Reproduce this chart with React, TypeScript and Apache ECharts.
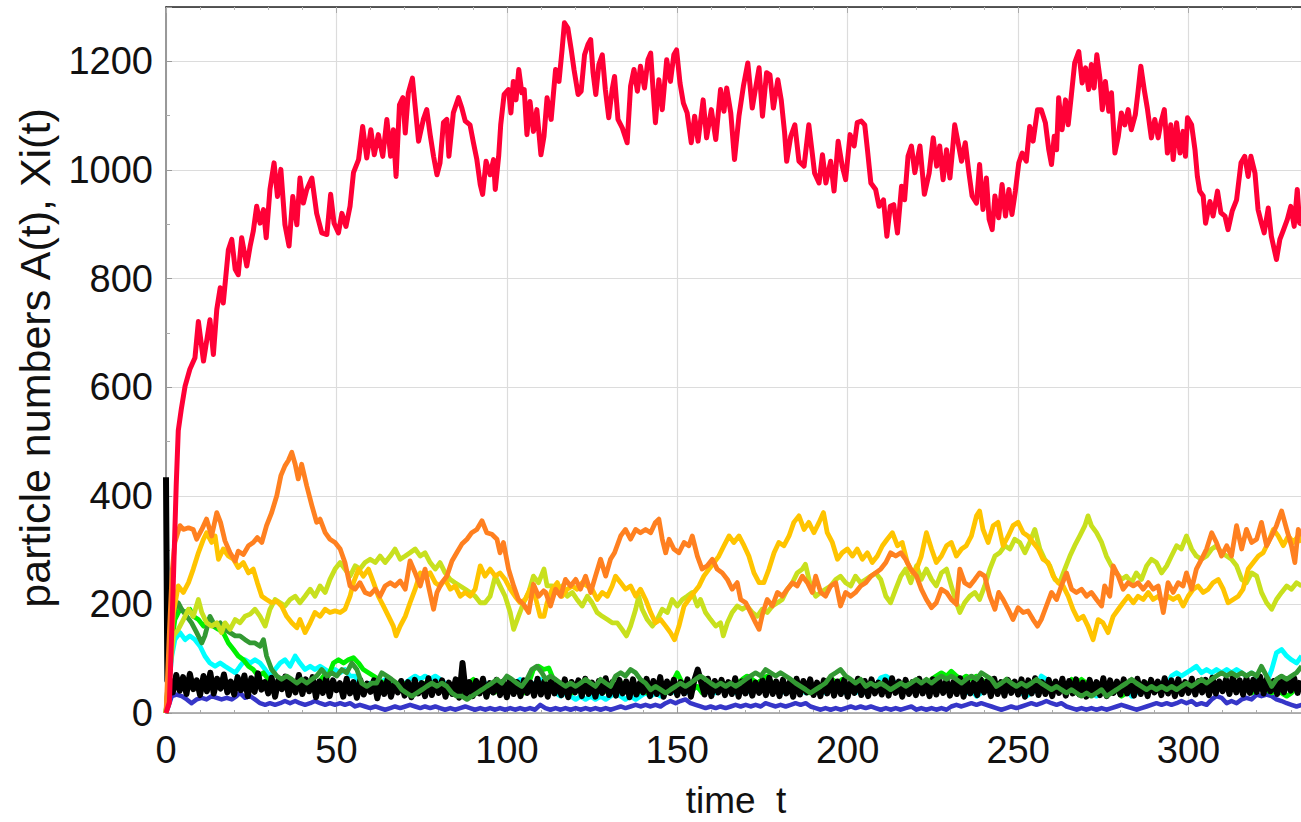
import React, { useEffect, useRef } from "react";
import * as echarts from "echarts";

// time axis ticks
const xTicks = [0, 50, 100, 150, 200, 250, 300];
const yTicks = [0, 200, 400, 600, 800, 1000, 1200];

// A(t) — red
const redA = [[0,0],[1,20],[2,210],[3,420],[3.6,520],[4.5,560],[5.6,602],[7,633],[8.5,654],[9.5,721],[11,648],[12.9,724],[13.9,660],[14.9,743],[15.9,783],[16.8,755],[18.3,853],[19.3,872],[20.3,817],[21.2,807],[22.2,875],[23.7,823],[24.7,860],[25.6,887],[26.6,933],[27.6,902],[28.6,927],[29.4,875],[30.5,964],[31.7,1013],[32.7,951],[33.7,1001],[34.9,899],[36.1,860],[37.2,951],[38.4,899],[39.3,985],[40.3,939],[41.3,964],[42.8,985],[44.2,920],[45.7,884],[47.2,881],[48.3,955],[49.3,902],[50.6,884],[51.6,920],[52.8,896],[54,933],[55,995],[56.5,1019],[57.7,1080],[58.9,1022],[60.1,1074],[61.1,1028],[62.3,1065],[63.6,1025],[64.8,1093],[65.9,1025],[66.7,1074],[67.5,988],[68.5,1120],[69.5,1133],[70.2,1068],[71.1,1142],[72.3,1169],[73.1,1117],[74.1,1053],[75.5,1093],[76.5,1111],[77.5,1065],[78.5,1025],[79.5,991],[80.4,1013],[81.4,1087],[82.4,1093],[83,1025],[84.3,1105],[85.8,1133],[86.8,1114],[87.8,1090],[89.2,1083],[90.2,1050],[91.2,1019],[92.2,973],[92.9,955],[93.9,1016],[95.1,991],[96.1,1019],[96.6,964],[97.6,1025],[98.2,1083],[99.2,1139],[100.5,1148],[101.2,1105],[101.9,1163],[102.7,1129],[103.5,1185],[104.4,1142],[105.1,1148],[105.9,1065],[106.8,1126],[107.8,1071],[108.8,1111],[110,1028],[110.9,1062],[111.8,1133],[113,1093],[114.3,1185],[115.3,1163],[116.2,1221],[116.9,1271],[117.9,1261],[118.9,1221],[119.7,1185],[120.9,1139],[121.8,1145],[122.8,1212],[123.8,1231],[124.6,1240],[125.3,1179],[126.1,1139],[127,1194],[128,1212],[128.9,1148],[129.9,1096],[130.9,1148],[131.6,1172],[132.6,1093],[133.9,1077],[135.3,1050],[136.3,1154],[137.3,1185],[138.3,1145],[139.2,1191],[140.4,1151],[141.4,1203],[142.2,1215],[142.9,1148],[143.6,1087],[144.6,1166],[145.6,1111],[146.9,1203],[148,1163],[149,1212],[149.8,1221],[150.8,1160],[151.8,1123],[152.9,1105],[154.1,1050],[155.1,1099],[156.1,1053],[157.6,1129],[158.6,1059],[160,1111],[161.3,1056],[162.7,1148],[163.7,1108],[164.5,1151],[165.7,1105],[166.8,1019],[168.1,1099],[169.4,1154],[170.7,1197],[172,1114],[173,1151],[174,1188],[175,1099],[176.2,1179],[177.2,1175],[178.2,1114],[179.5,1166],[180.5,1129],[181.5,1068],[182.1,1016],[183.3,1062],[184.5,1083],[185.7,1016],[187.2,1007],[188.6,1083],[189.6,1031],[190.3,994],[191.6,976],[192.6,1028],[193.6,976],[195,1016],[196,961],[197.2,1053],[198.4,1007],[199.4,982],[200.7,1065],[201.9,1044],[202.8,1087],[204,1090],[205,1083],[205.8,1037],[206.8,976],[208.2,964],[209.2,933],[210.5,945],[211.5,878],[212.5,933],[213.5,936],[214.6,884],[215.8,970],[216.7,945],[217.7,1025],[218.7,1044],[219.7,995],[221.2,1044],[222.5,955],[223.9,994],[225.1,1059],[226.1,1007],[227,1044],[228,982],[229,1037],[230,985],[230.6,1025],[231.4,1083],[232.4,1050],[233.4,1016],[234.5,1050],[235.5,998],[236.5,952],[237.8,939],[238.7,1010],[239.7,927],[240.7,985],[241.5,909],[242.4,890],[243.2,952],[244.3,912],[245.3,973],[246.3,915],[247.3,964],[248.2,918],[249.2,961],[250.2,1013],[251.2,1031],[252.4,1016],[253.4,1080],[254.4,1053],[255.7,1111],[256.8,1111],[258,1087],[259,1037],[259.8,1010],[260.6,1062],[261.3,1037],[261.9,1133],[262.9,1074],[263.9,1129],[264.7,1083],[265.6,1136],[266.6,1197],[267.8,1218],[268.8,1160],[269.8,1188],[270.7,1148],[271.5,1194],[272.3,1151],[273.1,1212],[274,1169],[274.7,1111],[275.6,1163],[276.6,1108],[277.4,1142],[278.4,1031],[279.4,1062],[280.3,1105],[281.3,1083],[282.3,1111],[283.2,1074],[284.4,1102],[285.2,1145],[286,1191],[287,1148],[287.9,1114],[289.1,1059],[290.1,1093],[291.1,1059],[291.9,1087],[292.9,1111],[293.8,1031],[294.8,1083],[295.5,1019],[296.5,1087],[297.5,1031],[298.4,1071],[299.1,1025],[299.7,1096],[300.9,1083],[301.9,1037],[302.6,988],[303.3,961],[304.3,952],[305,902],[306.3,942],[307.2,915],[308.5,961],[309.5,921],[310.7,915],[311.6,890],[312.8,924],[314.1,945],[315.4,1013],[316.5,1025],[317.5,988],[318.3,1025],[319.5,994],[320.4,927],[321.4,902],[322.2,884],[323.4,930],[324.3,878],[325.8,835],[326.8,872],[327.7,887],[329,909],[330,933],[331,896],[331.9,964],[332.6,902],[333.2,900]];

const orangeX = [[0,0],[1,150],[1.8,260],[2.6,314],[4.1,345],[5.1,338],[6.6,341],[8,338],[9,320],[10.5,338],[11.9,357],[13.4,326],[14.9,369],[16,351],[17.3,317],[18.8,295],[20.3,280],[21.2,298],[22.7,292],[24.2,308],[25.6,314],[26.8,323],[28.1,314],[29.5,345],[31,369],[32.5,400],[33.7,437],[34.9,455],[35.9,465],[36.9,480],[37.9,458],[38.8,431],[39.8,458],[41.3,418],[42.8,382],[44.2,351],[45.2,357],[46.7,332],[48.1,320],[49.6,314],[51.1,302],[52.5,277],[54,234],[55.5,228],[56.9,240],[58.4,222],[59.9,218],[61.4,228],[62.8,215],[64.3,234],[65.8,240],[67.2,234],[68.7,243],[70.2,228],[71.6,280],[73.1,258],[74.6,234],[76,265],[77,234],[78.5,191],[79.5,222],[80.9,240],[82.4,252],[83.9,280],[85.3,295],[86.8,311],[88.3,320],[89.7,332],[91.2,338],[92.7,354],[94.1,332],[95.6,329],[97.1,320],[98,295],[99,314],[100.5,265],[102,234],[103.4,209],[104.9,200],[106.4,185],[107.8,237],[109.3,215],[110.8,225],[111.4,222],[112.8,197],[114.3,228],[115.8,215],[117.2,246],[118.7,234],[120.2,246],[121.6,228],[123.1,252],[124.6,222],[126,252],[127.5,283],[129,252],[130.4,283],[131.6,295],[133.4,326],[134.8,338],[136.3,320],[137.8,338],[139.2,332],[140.7,338],[142.2,332],[143.6,351],[144.6,357],[145.6,320],[146.6,295],[147.6,320],[149,302],[150.5,295],[152,314],[153.4,308],[154.4,326],[155.9,289],[157.3,265],[158.8,271],[160.3,283],[161.7,265],[163.2,258],[164.7,246],[166.1,228],[167.6,240],[168.6,209],[170.1,203],[171.5,185],[173,166],[174,154],[175,182],[176.4,209],[177.9,197],[179.4,222],[180.8,215],[182.3,228],[183.8,240],[185.2,234],[186.7,252],[188.2,240],[189.6,222],[190.6,252],[192.1,222],[193.5,215],[195,234],[196.5,240],[197.9,197],[199.4,222],[200.9,215],[202.3,222],[203.8,234],[205.3,240],[206.8,252],[208.2,258],[209.7,265],[211.2,277],[212.6,295],[214.1,289],[215.6,295],[217,283],[218.5,265],[220.2,252],[221.6,228],[223.1,209],[224.6,194],[226,203],[227.5,228],[229,222],[230.4,209],[231.9,200],[232.9,265],[234.3,240],[235.8,234],[237.3,246],[238.7,258],[240.2,252],[241.7,215],[243.2,191],[244.3,222],[245.6,209],[247.1,191],[248.5,172],[250,194],[251.5,185],[252.9,188],[254.4,172],[255.7,160],[256.8,172],[258.3,197],[259.8,222],[261.3,209],[262.7,234],[264.2,258],[265.7,228],[267.1,222],[268.6,228],[270.1,215],[271.5,222],[273,209],[274.5,197],[275.4,234],[276.9,215],[277.9,271],[279.4,252],[280.8,228],[282.3,240],[283.8,234],[285.2,240],[286.7,228],[288.2,240],[289.6,228],[291.1,234],[292.6,185],[294,240],[295.5,222],[297,240],[298.4,234],[299.4,258],[300.9,228],[302.3,265],[303.8,283],[305.3,302],[306.8,332],[308.2,314],[309.7,289],[311.2,308],[312.6,289],[314.1,345],[315.6,302],[317,338],[318.5,314],[320,320],[321.4,351],[322.9,308],[324.4,326],[325.8,345],[327.3,372],[328.8,338],[330.2,308],[331.2,277],[332.2,338],[333.2,326]];

const goldX = [[0,0],[1,90],[2.2,185],[3.6,234],[5.1,222],[6.6,240],[8,265],[9.5,295],[11,320],[11.9,332],[13.4,314],[14.4,326],[15.4,283],[16.8,302],[18.3,289],[19.8,283],[21.2,268],[22.7,277],[24.2,258],[25.6,265],[26.8,240],[28.1,215],[29.5,209],[31,203],[32.5,206],[33.9,197],[35.4,178],[36.9,166],[38.4,157],[39.3,172],[40.8,148],[42.3,166],[43.7,185],[45.2,178],[46.7,191],[48.1,185],[49.6,188],[51.1,185],[52.5,191],[54,215],[55,240],[56.5,265],[57.9,252],[59.4,265],[60.9,240],[62.3,215],[63.8,197],[65.3,178],[66.7,160],[67.5,142],[68.7,160],[70.2,178],[71.6,203],[73.1,228],[74.6,258],[76,252],[77.5,258],[79,240],[80.4,234],[81.9,246],[83.4,228],[84.8,234],[86.3,215],[87.8,222],[89.2,215],[90.7,228],[92.2,271],[93.6,252],[95.1,265],[96.6,252],[98,258],[99.5,246],[101,228],[102.4,215],[103.9,203],[105.4,209],[106.8,228],[108.3,215],[109.8,178],[110.9,178],[111.8,203],[113.3,228],[114.8,240],[116.2,215],[117.7,228],[119.2,234],[120.6,228],[122.1,240],[123.6,234],[125,228],[126.5,209],[128,222],[129.5,215],[130.9,234],[131.9,252],[133.4,240],[134.8,228],[136.3,234],[137.8,215],[139.2,228],[140.7,209],[142.2,185],[143.6,166],[145.1,172],[146.6,160],[148,148],[149.2,135],[150.5,160],[152,197],[153.4,209],[154.9,222],[156.4,234],[157.8,252],[159.3,265],[160.8,277],[162.2,289],[163.7,308],[165.2,326],[166.6,314],[168.1,326],[169.6,308],[171,289],[172.5,258],[174,240],[175.4,240],[176.9,265],[178.4,295],[179.8,314],[181.3,308],[182.8,326],[184.2,351],[185.7,363],[187.2,338],[188.6,351],[190.1,332],[191.6,351],[192.9,369],[194,332],[195.5,314],[197,283],[198.4,295],[199.9,302],[201.4,289],[202.8,302],[204.3,283],[205.8,295],[207.2,277],[208.7,289],[210.2,308],[211.6,320],[213.1,332],[214.6,308],[216,314],[217.5,277],[219,258],[220.2,265],[221.6,289],[223.1,332],[224.6,302],[226,277],[227.5,289],[229,308],[230.4,314],[231.9,289],[233.4,302],[234.8,308],[236.3,326],[237.8,363],[238.7,372],[239.7,338],[241.2,314],[242.7,345],[244.1,351],[245.6,308],[247.1,326],[248.5,345],[250,351],[251.5,332],[252.9,326],[254.4,314],[255.9,302],[257.3,283],[258.8,277],[260.3,252],[261.7,240],[263.2,234],[264.7,215],[266.1,191],[267.6,172],[269.1,178],[270.5,160],[272,135],[273.5,172],[274.9,166],[276.4,148],[277.9,178],[279.4,191],[280.8,203],[282.3,215],[283.8,203],[285.2,215],[286.7,209],[288.2,222],[289.6,209],[291.1,215],[292.6,203],[294,215],[295.5,209],[297,215],[298.4,197],[299.9,215],[301.4,228],[302.8,234],[304.3,222],[305.8,228],[307.2,240],[308.7,246],[310.2,228],[311.6,203],[313.1,209],[314.6,215],[316,228],[317.5,265],[319,277],[320.5,289],[321.9,295],[323.4,314],[324.9,338],[326.3,326],[327.8,308],[329.3,326],[330.7,314],[332.2,326],[333.2,314]];

const limeYellowX = [[0,0],[1,70],[2.2,142],[3.6,154],[5.1,172],[6.6,191],[8,178],[9.5,209],[10.5,185],[11.9,166],[13.4,160],[14.9,166],[16.3,148],[17.3,166],[18.8,154],[20.3,172],[21.7,166],[23.2,178],[24.7,182],[26.1,191],[27.6,178],[29.1,160],[30.5,191],[32,209],[33.5,203],[34.9,197],[36.4,209],[37.9,215],[39.3,203],[40.8,215],[42.3,228],[43.7,215],[45.2,234],[46.7,222],[48.1,246],[49.6,265],[51.1,277],[52.5,265],[54,252],[55.5,271],[56.9,265],[58.4,277],[59.9,283],[61.4,277],[62.8,289],[64.3,277],[65.8,289],[67.2,302],[68.7,283],[70.2,289],[71.6,295],[73.1,302],[74.6,289],[76,295],[77.5,277],[79,265],[80.4,277],[81.9,258],[83.4,246],[84.8,240],[86.3,234],[87.8,228],[89.2,222],[90.7,215],[92.2,203],[93.6,203],[95.1,215],[96.6,252],[98,234],[99.5,215],[101,185],[102,154],[103.4,178],[104.9,203],[106.4,222],[107.8,252],[109.3,240],[110.9,265],[111.8,234],[113.3,234],[114.8,222],[116.2,234],[117.7,215],[119.2,222],[120.6,209],[122.1,197],[123.6,215],[125,203],[126.5,185],[128,178],[129.5,172],[130.9,166],[132.4,166],[133.8,154],[135.1,142],[136.3,160],[137.8,191],[138.7,215],[139.7,191],[141.2,172],[142.7,160],[144.1,172],[145.6,191],[147.1,185],[148.5,209],[150,197],[151.5,209],[152.9,215],[154.4,222],[155.9,197],[156.8,209],[158.3,185],[159.8,172],[161.3,160],[162.7,166],[163.5,142],[164.7,166],[166.1,185],[167.6,197],[169.1,191],[170.5,197],[172,185],[173.5,178],[174.9,191],[176.4,185],[177.9,197],[179.4,203],[180.8,209],[182.3,228],[183.8,240],[185.2,258],[186.7,265],[187.6,274],[189.1,234],[190.6,215],[192.1,222],[193.5,228],[195,234],[196.5,246],[197.9,252],[199.4,240],[200.9,234],[202.3,252],[203.8,240],[205.3,246],[206.8,252],[208.2,258],[209.7,246],[211.2,215],[212.6,203],[214.1,228],[215.6,252],[217,265],[218.5,240],[220.2,271],[221.6,246],[223.1,265],[224.6,246],[226,234],[227.5,258],[229,265],[230.4,234],[231.9,203],[232.9,185],[234.3,203],[235.8,215],[237.3,222],[238.7,209],[240.2,234],[241.7,265],[243.2,289],[244.6,295],[246.1,308],[247.6,302],[249,320],[250.5,314],[252,295],[253.4,314],[254.9,338],[256.4,302],[257.8,283],[259.3,271],[260.8,246],[262.2,240],[263.7,265],[265.2,289],[266.6,308],[268.1,326],[269.6,345],[270.5,363],[271.5,345],[273,332],[274.5,314],[275.9,289],[277.4,271],[278.9,258],[280.3,246],[281.8,252],[283.3,240],[284.7,258],[286.2,246],[287.7,271],[289.1,283],[290.6,277],[292.1,258],[293.6,271],[295,289],[296.5,308],[297.9,302],[299.4,326],[300.9,302],[302.3,289],[303.8,283],[305.3,289],[306.8,302],[308.2,308],[309.7,295],[311.2,289],[312.6,283],[314.1,271],[315.6,246],[317,240],[318.5,258],[320,252],[321.4,222],[322.9,203],[324.4,191],[325.8,209],[327.3,222],[328.8,234],[330.2,228],[331.7,240],[333.2,234]];

const greenX = [[0,0],[1.5,120],[2.6,172],[4.1,191],[5.6,185],[7,191],[8,178],[9.5,172],[11,160],[12.4,172],[13.9,160],[15.4,154],[16.8,148],[18.3,129],[19.8,117],[21.2,105],[22.7,98],[24.2,86],[25.6,80],[27.1,68],[28.6,74],[30,62],[31.5,55],[33,49],[34.4,49],[35.9,49],[37.4,43],[38.8,49],[40.3,43],[41.8,49],[43.2,43],[44.7,55],[46.2,68],[47.6,68],[49.1,92],[50.6,98],[52.1,92],[53.5,98],[55,102],[56.5,92],[57.9,80],[59.4,74],[60.9,68],[62.3,62],[63.8,55],[65.3,55],[66.7,49],[68.2,49],[69.7,55],[71.1,49],[72.6,43],[74.1,49],[75.5,55],[77,49],[78.5,55],[79.9,49],[81.4,43],[82.9,37],[84.3,49],[85.8,43],[87.3,37],[88.7,55],[90.2,62],[91.7,55],[93.2,49],[94.6,43],[96.1,37],[97.6,43],[99,49],[100.5,43],[102,37],[103.4,43],[104.9,37],[106.4,55],[107.8,80],[109.3,86],[110.8,80],[112.3,83],[113.3,68],[114.8,43],[116.2,37],[117.7,43],[119.2,37],[120.6,43],[122.1,37],[123.6,43],[125,49],[126.5,43],[128,37],[129.5,43],[130.9,43],[132.4,49],[133.8,55],[135.3,49],[136.8,43],[138.3,37],[139.7,43],[141.2,37],[142.7,43],[144.1,49],[145.6,43],[147.1,49],[148.5,55],[150,74],[151.5,55],[152.9,49],[154.4,43],[155.9,49],[157.3,37],[158.8,43],[160.3,49],[161.7,55],[163.2,49],[164.7,55],[166.1,49],[167.6,55],[169.1,62],[170.5,68],[172,62],[173.5,55],[174.9,62],[176.4,68],[177.9,55],[179.4,49],[180.8,43],[182.3,49],[183.8,55],[185.2,49],[186.7,43],[188.2,37],[189.6,43],[191.1,49],[192.6,43],[194,55],[195.5,62],[197,55],[198.4,62],[199.9,49],[201.4,55],[202.8,49],[204.3,43],[205.8,49],[207.2,43],[208.7,49],[210.2,43],[211.6,49],[213.1,55],[214.6,49],[216,55],[217.5,49],[219,43],[220.5,49],[221.9,55],[223.4,49],[224.6,62],[226,68],[227.5,74],[229,68],[230.4,77],[231.9,68],[233.4,62],[234.8,68],[236.3,62],[237.8,68],[239.2,62],[240.7,55],[242.2,49],[243.6,55],[245.1,49],[246.6,62],[248,55],[249.5,49],[251,43],[252.4,37],[253.9,43],[255.4,49],[256.8,43],[258.3,49],[259.8,55],[261.3,49],[262.7,55],[264.2,49],[265.7,62],[267.1,55],[268.6,62],[270.1,55],[271.5,49],[273,43],[274.5,37],[275.9,43],[277.4,37],[278.9,43],[280.3,31],[281.8,37],[283.3,49],[284.7,55],[286.2,49],[287.7,55],[289.1,49],[290.6,43],[292.1,49],[293.6,55],[295,49],[296.5,43],[297.9,49],[299.4,55],[300.9,49],[302.3,43],[303.8,49],[305.3,55],[306.8,49],[308.2,43],[309.7,49],[311.2,55],[312.6,49],[314.1,43],[315.6,49],[317,43],[318.5,37],[320,43],[321.4,49],[322.9,43],[324.4,37],[325.8,43],[327.3,37],[328.8,31],[330.2,37],[331.7,49],[333.2,55]];

const darkGreenX = [[0,0],[1.7,166],[2.6,191],[3.6,203],[4.6,191],[6.1,178],[7.5,166],[9,148],[10.5,129],[11.4,142],[12.9,178],[14.4,160],[15.9,166],[17.3,154],[18.8,148],[20.3,142],[21.7,142],[23.2,135],[24.7,129],[26.1,129],[27.6,123],[28.6,135],[29.5,105],[31,80],[32.5,68],[33.9,62],[35.4,68],[36.9,62],[38.4,55],[39.8,62],[41.3,55],[42.8,62],[44.2,68],[45.7,80],[47.2,68],[48.6,74],[50.1,68],[51.6,80],[53,74],[54.5,92],[56,80],[57.4,55],[58.9,49],[60.4,55],[61.8,55],[63.3,74],[64.8,68],[66.2,62],[67.7,55],[69.2,43],[70.6,37],[72.1,31],[73.6,37],[75.1,43],[76.5,49],[78,55],[79.5,49],[80.9,55],[82.4,49],[83.9,37],[85.3,31],[86.8,31],[88.3,25],[89.7,31],[91.2,37],[92.7,43],[94.1,49],[95.6,55],[97.1,62],[98.5,55],[100,68],[101.5,62],[102.9,55],[104.4,49],[105.9,62],[107.3,80],[108.8,86],[110.3,74],[111.4,62],[112.8,68],[114.3,62],[115.8,55],[117.2,49],[118.7,55],[120.2,49],[121.6,55],[123.1,62],[124.6,55],[126,49],[127.5,62],[129,55],[130.4,49],[131.9,68],[133.4,74],[134.8,68],[136.3,80],[137.8,74],[139.2,62],[140.7,55],[142.2,43],[143.6,49],[145.1,43],[146.6,37],[148,43],[149.5,49],[150.9,55],[152.4,49],[153.9,55],[155.4,62],[156.8,68],[158.3,62],[159.8,55],[161.3,49],[162.7,55],[164.2,49],[165.7,55],[167.1,49],[168.6,55],[170.1,62],[171.5,68],[173,74],[174.5,68],[175.9,80],[177.4,74],[178.9,68],[180.3,74],[181.8,68],[183.3,62],[184.7,55],[186.2,49],[187.7,43],[189.1,37],[190.6,43],[192.1,49],[193.5,55],[195,68],[196.5,74],[197.9,80],[199.4,68],[200.9,62],[202.3,55],[203.8,62],[205.3,49],[206.8,55],[208.2,49],[209.7,55],[211.2,49],[212.6,43],[214.1,49],[215.6,55],[217,49],[218.5,55],[220.2,62],[221.6,55],[223.1,62],[224.6,55],[226,62],[227.5,68],[229,62],[230.4,68],[231.9,62],[233.4,55],[234.8,62],[236.3,68],[237.8,62],[239.2,74],[240.7,68],[242.2,62],[243.6,49],[245.1,55],[246.6,62],[248,55],[249.5,49],[251,55],[252.4,49],[253.9,55],[255.4,62],[256.8,55],[258.3,49],[259.8,43],[261.3,49],[262.7,43],[264.2,37],[265.7,43],[267.1,37],[268.6,31],[270.1,37],[271.5,31],[273,37],[274.5,43],[275.9,31],[277.4,37],[278.9,43],[280.3,49],[281.8,55],[283.3,62],[284.7,55],[286.2,49],[287.7,43],[289.1,49],[290.6,43],[292.1,49],[293.6,43],[295,49],[296.5,43],[297.9,49],[299.4,55],[300.9,49],[302.3,55],[303.8,62],[305.3,55],[306.8,62],[308.2,68],[309.7,74],[311.2,68],[312.6,74],[314.1,68],[315.6,74],[317,68],[318.5,74],[320,68],[321.4,86],[322.9,68],[324.4,49],[325.8,62],[327.3,68],[328.8,62],[330.2,68],[331.7,74],[333.2,86]];

const cyanX = [[0,0],[1.7,105],[2.6,135],[4.1,148],[5.6,135],[7,142],[8.5,135],[10,123],[11.4,105],[12.9,92],[14.4,86],[15.9,92],[17.3,86],[18.8,80],[20.3,74],[21.7,86],[23.2,98],[24.7,92],[26.1,98],[27.6,92],[29.1,80],[30.5,68],[32,80],[33.5,92],[34.9,98],[36.4,86],[37.9,105],[39.3,92],[40.8,80],[42.3,86],[43.7,80],[45.2,86],[46.7,80],[48.1,74],[49.6,80],[51.1,74],[52.5,80],[54,68],[55.5,68],[56.9,55],[58.4,49],[59.9,55],[61.4,49],[62.8,55],[64.3,62],[65.8,62],[67.2,55],[68.7,49],[70.2,55],[71.6,62],[73.1,68],[74.6,62],[76,68],[77.5,62],[79,68],[80.4,62],[81.9,55],[83.4,49],[84.8,55],[86.3,49],[87.8,43],[89.2,49],[90.7,55],[92.2,49],[93.6,55],[95.1,49],[96.6,55],[98,49],[99.5,43],[101,49],[102.4,55],[103.9,62],[105.4,55],[106.8,49],[108.3,55],[109.8,62],[111.4,49],[112.8,43],[114.3,37],[115.8,31],[117.2,37],[118.7,31],[120.2,25],[121.6,31],[123.1,25],[124.6,31],[126,25],[127.5,31],[129,25],[130.4,31],[131.9,37],[133.4,31],[134.8,25],[136.3,31],[137.8,25],[139.2,31],[140.7,37],[142.2,31],[143.6,37],[145.1,31],[146.6,37],[148,43],[149.5,37],[150.9,43],[152.4,37],[153.9,43],[155.4,49],[156.8,43],[158.3,37],[159.8,43],[161.3,37],[162.7,43],[164.2,49],[165.7,43],[167.1,37],[168.6,43],[170.1,37],[171.5,43],[173,49],[174.5,43],[175.9,49],[177.4,43],[178.9,49],[180.3,43],[181.8,37],[183.3,43],[184.7,49],[186.2,43],[187.7,37],[189.1,43],[190.6,37],[192.1,43],[193.5,37],[195,43],[196.5,49],[197.9,43],[199.4,37],[200.9,43],[202.3,37],[203.8,43],[205.3,37],[206.8,43],[208.2,49],[209.7,65],[211.2,68],[212.6,62],[214.1,55],[215.6,49],[217,43],[218.5,49],[220.2,43],[221.6,49],[223.1,43],[224.6,49],[226,43],[227.5,49],[229,43],[230.4,49],[231.9,55],[233.4,43],[234.8,37],[236.3,43],[237.8,31],[239.2,37],[240.7,49],[242.2,43],[243.6,55],[245.1,49],[246.6,43],[248,49],[249.5,43],[251,37],[252.4,31],[253.9,37],[255.4,43],[256.8,68],[258.3,62],[259.8,49],[261.3,55],[262.7,49],[264.2,43],[265.7,49],[267.1,43],[268.6,37],[270.1,43],[271.5,37],[273,31],[274.5,37],[275.9,43],[277.4,49],[278.9,55],[280.3,49],[281.8,43],[283.3,31],[284.7,37],[286.2,43],[287.7,37],[289.1,43],[290.6,49],[292.1,55],[293.6,49],[295,68],[296.5,74],[297.9,68],[299.4,74],[300.9,80],[302.3,86],[303.8,74],[305.3,80],[306.8,74],[308.2,80],[309.7,74],[311.2,80],[312.6,74],[314.1,80],[315.6,74],[317,68],[318.5,74],[320,68],[321.4,49],[322.9,55],[324.4,80],[325.8,111],[327.3,117],[328.8,105],[330.2,98],[331.7,92],[333.2,105]];

const blueX = [[0,0],[0.7,12],[1.7,31],[3.1,34],[4.6,31],[6.1,25],[7.5,18],[9,25],[10.5,28],[11.9,25],[13.4,31],[14.9,28],[16.3,25],[17.8,28],[19.3,25],[20.7,31],[21.7,37],[23.2,28],[24.7,31],[26.1,25],[27.6,18],[29.1,15],[30.5,18],[32,15],[33.5,18],[34.9,22],[36.4,18],[37.9,22],[39.3,18],[40.8,15],[42.3,18],[43.7,22],[45.2,18],[46.7,15],[48.1,18],[49.6,15],[51.1,18],[52.5,15],[54,18],[55.5,12],[56.9,15],[58.4,12],[59.9,9],[61.4,12],[62.8,9],[64.3,6],[65.8,9],[67.2,12],[68.7,9],[70.2,12],[71.6,15],[73.1,12],[74.6,9],[76,12],[77.5,9],[79,12],[80.4,9],[81.9,6],[83.4,9],[84.8,6],[86.3,9],[87.8,12],[89.2,9],[90.7,6],[92.2,9],[93.6,6],[95.1,9],[96.6,6],[98,9],[99.5,6],[101,9],[102.4,6],[103.9,9],[105.4,6],[106.8,9],[108.3,6],[109.8,15],[111.3,9],[112.8,6],[114.3,9],[115.8,6],[117.2,9],[118.7,6],[120.2,9],[121.6,6],[123.1,9],[124.6,6],[126,9],[127.5,6],[129,9],[130.4,6],[131.9,9],[133.4,12],[134.8,9],[136.3,12],[137.8,15],[139.2,12],[140.7,15],[142.2,12],[143.6,15],[145.1,12],[146.6,18],[148,22],[149.5,18],[150.9,22],[152.4,25],[153.9,18],[155.4,15],[156.8,12],[158.3,9],[159.8,12],[161.3,9],[162.7,12],[164.2,9],[165.7,12],[167.1,15],[168.6,12],[170.1,15],[171.5,12],[173,15],[174.5,12],[175.9,18],[177.4,15],[178.9,12],[180.3,15],[181.8,12],[183.3,15],[184.7,18],[186.2,15],[187.7,18],[189.1,12],[190.6,9],[192.1,6],[193.5,9],[195,6],[196.5,9],[197.9,6],[199.4,9],[200.9,12],[202.3,9],[203.8,12],[205.3,9],[206.8,12],[208.2,9],[209.7,6],[211.2,9],[212.6,6],[214.1,9],[215.6,6],[217,9],[218.7,12],[220.2,6],[221.6,9],[223.1,6],[224.6,9],[226,6],[227.5,9],[229,6],[230.4,12],[231.9,15],[233.4,12],[234.8,15],[236.3,18],[237.8,15],[239.2,18],[240.7,15],[242.2,12],[243.6,9],[245.1,6],[246.6,9],[248,12],[249.5,9],[251,12],[252.4,15],[253.9,18],[255.4,15],[256.8,18],[258.3,22],[259.8,18],[261.3,15],[262.7,18],[264.2,12],[265.7,9],[267.1,6],[268.6,9],[270.1,6],[271.5,9],[273,6],[274.5,9],[275.9,6],[277.4,9],[278.9,12],[280.3,15],[281.8,12],[283.3,9],[284.7,6],[286.2,9],[287.7,12],[289.1,15],[290.6,18],[292.1,15],[293.6,18],[295,15],[296.5,18],[297.9,22],[299.4,18],[300.9,22],[302.3,15],[303.8,18],[305.3,15],[306.8,25],[308.2,31],[309.7,28],[311.2,18],[312.6,22],[314.1,18],[315.6,25],[317,28],[318.5,25],[320,34],[321.4,31],[322.9,34],[324.4,31],[325.8,25],[327.3,22],[328.8,18],[330.2,15],[331.7,12],[333.2,15]];

// black: initial spike, then one value per time unit (t = 1 .. 333)
const blackStart = [[0, 434], [0.4, 60]];
const blackValues = [
  62,38,70,41,66,35,72,44,60,33, 68,40,74,36,63,45,71,38,58,34,
  66,42,69,31,64,39,73,43,57,36, 65,30,61,44,67,33,59,38,70,35,
  62,40,66,29,58,37,64,31,60,42, 55,30,63,36,57,28,61,34,54,39,
  60,27,56,35,62,30,53,38,59,32, 57,29,61,36,55,31,64,33,58,37,
  60,30,56,35,62,28,92,34,57,31, 59,36,63,30,55,38,61,33,58,29,
  62,35,57,31,60,37,56,32,63,34, 58,30,61,36,55,33,62,29,57,38,
  60,31,63,35,56,30,59,37,64,33, 57,32,61,36,58,29,62,34,55,38,
  63,31,59,35,66,30,58,37,61,33, 57,36,62,30,60,80,57,34,63,31,
  59,38,61,33,57,35,64,30,58,36, 62,32,56,37,60,33,65,35,58,31,
  61,36,57,30,63,34,59,38,62,33, 56,31,60,36,64,32,58,35,61,30,
  57,37,63,33,59,31,62,36,56,34, 60,32,64,37,58,30,61,35,57,33,
  63,36,59,31,62,34,58,37,61,32, 57,35,64,30,60,36,56,33,62,38,
  59,31,63,35,57,32,61,37,58,34, 62,30,60,36,64,33,57,35,61,31,
  58,37,63,32,59,36,62,34,56,30, 61,35,57,33,64,31,60,37,58,34,
  62,36,59,32,63,35,57,31,61,38, 58,33,64,36,60,31,62,35,57,37,
  63,34,59,38,61,33,65,36,58,40, 62,35,66,38,60,34,64,37,61,39,
  67,36,63,40,59,35,65,38,62,41, 64,37,60
];

const seriesNames = ["X blue", "X cyan", "X green", "X black", "X dark green", "X yellow-green", "X gold", "X orange", "A(t)"];
const seriesColors = ["#3636C8", "#00FFFF", "#00F000", "#000000", "#339933", "#C8E01E", "#FFC400", "#FF8020", "#FF0036"];
const seriesWidths = [4.5, 4.8, 4.8, 6, 4.8, 4.8, 4.8, 4.8, 5];

export default function App() {
  const ref = useRef<HTMLDivElement>(null);

  useEffect(() => {
    if (!ref.current) return;
    const chart = echarts.init(ref.current, null, { renderer: "svg" });
    const black = blackStart.concat(blackValues.map((v, i) => [i + 1, v]));
    const datasets = [blueX, cyanX, greenX, black, darkGreenX, limeYellowX, goldX, orangeX, redA];
    const font = "'Liberation Sans', Arial, Helvetica, sans-serif";

    const tickAxisCommon = {
      type: "value" as const,
      min: xTicks[0],
      max: 333,
      interval: xTicks[1] - xTicks[0],
    };

    chart.setOption({
      animation: false,
      backgroundColor: "#ffffff",
      grid: { left: 166, top: 7, right: 0, bottom: 109, containLabel: false },
      xAxis: [
        {
          ...tickAxisCommon,
          position: "bottom",
          axisLine: { show: true, onZero: false, lineStyle: { color: "#9a9a9a", width: 1.5 } },
          axisTick: { show: true, inside: true, length: 6, lineStyle: { color: "#999" } },
          minorTick: { show: true, splitNumber: 5, length: 3, lineStyle: { color: "#aaa" } },
          splitLine: { show: true, lineStyle: { color: "#dcdcdc", width: 1.2 } },
          axisLabel: {
            fontSize: 38, color: "#111", fontFamily: font, margin: 18, showMaxLabel: false,
            formatter: (v: number) => String(v),
          },
        },
        {
          ...tickAxisCommon,
          position: "top",
          axisLine: { show: true, onZero: false, lineStyle: { color: "#222", width: 1.5 } },
          axisTick: { show: true, inside: true, length: 6, lineStyle: { color: "#aaa" } },
          minorTick: { show: true, splitNumber: 5, length: 3, lineStyle: { color: "#bbb" } },
          splitLine: { show: false },
          axisLabel: { show: false },
        },
      ],
      yAxis: {
        type: "value",
        min: yTicks[0],
        max: 1300,
        interval: yTicks[1] - yTicks[0],
        axisLine: { show: true, lineStyle: { color: "#999", width: 2 } },
        axisTick: { show: true, inside: true, length: 6, lineStyle: { color: "#999" } },
        minorTick: { show: true, splitNumber: 2, length: 4, lineStyle: { color: "#aaa" } },
        splitLine: { show: true, lineStyle: { color: "#dcdcdc", width: 1.2 } },
        axisLabel: {
          fontSize: 38, color: "#111", fontFamily: font, margin: 13, showMaxLabel: false,
          formatter: (v: number) => String(v),
        },
      },
      graphic: [
        {
          type: "text",
          x: 736,
          y: 800,
          style: {
            text: "time  t",
            fontSize: 37,
            fontFamily: font,
            fill: "#111",
            align: "center",
            verticalAlign: "middle",
            textAlign: "center",
            textVerticalAlign: "middle",
          },
        },
        {
          type: "text",
          x: 35,
          y: 358,
          rotation: Math.PI / 2,
          style: {
            text: "particle numbers A(t), Xi(t)",
            fontSize: 43,
            fontFamily: font,
            fill: "#111",
            align: "center",
            verticalAlign: "middle",
            textAlign: "center",
            textVerticalAlign: "middle",
          },
        },
      ],
      series: datasets.map((d, i) => ({
        name: seriesNames[i],
        type: "line",
        data: d,
        xAxisIndex: 0,
        showSymbol: false,
        symbol: "none",
        clip: true,
        lineStyle: { color: seriesColors[i], width: seriesWidths[i], join: "round" },
        itemStyle: { color: seriesColors[i] },
        z: 2 + i,
      })),
    });
    return () => chart.dispose();
  }, []);

  return (
    <div
      ref={ref}
      style={{ position: "fixed", left: 0, top: 0, width: 1301, height: 822, background: "#fff" }}
    />
  );
}
